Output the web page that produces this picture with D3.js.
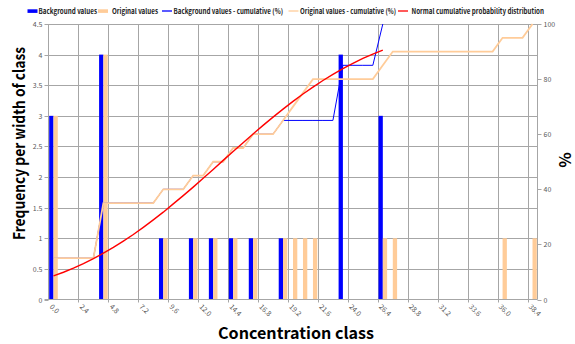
<!DOCTYPE html>
<html><head><meta charset="utf-8">
<script src="https://cdn.jsdelivr.net/npm/d3@7"></script>
<style>
html,body{margin:0;padding:0;background:#fff;}
svg{display:block;font-family:"Noto Sans CJK KR","Noto Sans",sans-serif;}
</style></head>
<body>
<svg id="chart" width="575" height="344"></svg>
<script>
// ---- data ----
const categories = ["0.0","0.8","1.6","2.4","3.2","4.0","4.8","5.6","6.4","7.2","8.0","8.8","9.6","10.4","11.2","12.0","12.8","13.6","14.4","15.2","16.0","16.8","17.6","18.4","19.2","20.0","20.8","21.6","22.4","23.2","24.0","24.8","25.6","26.4","27.2","28.0","28.8","29.6","30.4","31.2","32.0","32.8","33.6","34.4","35.2","36.0","36.8","37.6","38.4"];
const tickLabels = ["0.0","2.4","4.8","7.2","9.6","12.0","14.4","16.8","19.2","21.6","24.0","26.4","28.8","31.2","33.6","36.0","38.4"];
const backgroundValues = [3,0,0,0,0,4,0,0,0,0,0,1,0,0,1,0,1,0,1,0,1,0,0,1,0,0,0,0,0,4,0,0,0,3,0,0,0,0,0,0,0,0,0,0,0,0,0,0,0];
const originalValues   = [3,0,0,0,0,4,0,0,0,0,0,1,0,0,1,0,1,0,1,0,1,0,0,1,1,1,1,0,0,0,0,0,0,1,1,0,0,0,0,0,0,0,0,0,0,1,0,0,1];
const backgroundCumulative = [15,15,15,15,15,35,35,35,35,35,35,40,40,40,45,45,50,50,55,55,60,60,60,65,65,65,65,65,65,85,85,85,85,100];
const originalCumulative = [15,15,15,15,15,35,35,35,35,35,35,40,40,40,45,45,50,50,55,55,60,60,60,65,70,75,80,80,80,80,80,80,80,85,90,90,90,90,90,90,90,90,90,90,90,95,95,95,100];
const normalCumulative = [8.6,9.9,11.4,13.0,14.8,16.8,18.9,21.2,23.6,26.2,28.9,31.7,34.7,37.7,40.8,44.0,47.2,50.5,53.7,56.9,60.1,63.2,66.2,69.1,71.9,74.6,77.1,79.5,81.7,83.8,85.7,87.5,89.1,90.5];
const leftTicks = [0,0.5,1,1.5,2,2.5,3,3.5,4,4.5];
const rightTicks = [0,20,40,60,80,100];
const seriesNames = ["Background values","Original values","Background values - cumulative (%)","Original values - cumulative (%)","Normal cumulative probability distribution"];

// ---- layout ----
const L = 48.5, R = 537.5, T = 24, B = 299.5;
const blue = "#0000FF", peach = "#FFCC99", red = "#FF0000", grid = "#a6a6a6", tickCol = "#595959";
const svg = d3.select("#chart");

const x = d3.scaleBand().domain(categories).range([L, R]).padding(0);
const x1 = d3.scaleBand().domain(["bg","orig"]).range([0, x.bandwidth()]).paddingInner(0).paddingOuter(0.16);
const y = d3.scaleLinear().domain([0, 4.5]).range([B, T]);
const y2 = d3.scaleLinear().domain([0, 100]).range([B, T]);
const cx = c => x(c) + x.bandwidth() / 2;

// gridlines
const g = svg.append("g");
g.selectAll("line.h").data(leftTicks.slice(1)).join("line")
  .attr("x1", L).attr("x2", R).attr("y1", d => Math.round(y(d)) + 0.5).attr("y2", d => Math.round(y(d)) + 0.5)
  .attr("stroke", grid).attr("stroke-width", 1);
const vIdx = d3.range(3, categories.length, 3);
g.selectAll("line.v").data(vIdx).join("line")
  .attr("x1", i => Math.round(x(categories[i])) + 0.5).attr("x2", i => Math.round(x(categories[i])) + 0.5)
  .attr("y1", T).attr("y2", B + 3)
  .attr("stroke", grid).attr("stroke-width", 1);

// bars
const bars = svg.append("g");
categories.forEach((c, i) => {
  if (backgroundValues[i] > 0) bars.append("rect").attr("x", x(c) + x1("bg")).attr("width", x1.bandwidth())
    .attr("y", y(backgroundValues[i])).attr("height", y(0) - y(backgroundValues[i])).attr("fill", blue);
  if (originalValues[i] > 0) bars.append("rect").attr("x", x(c) + x1("orig")).attr("width", x1.bandwidth())
    .attr("y", y(originalValues[i])).attr("height", y(0) - y(originalValues[i])).attr("fill", peach);
});

// axes lines
svg.append("line").attr("x1", L).attr("x2", L).attr("y1", T).attr("y2", B).attr("stroke", grid);
svg.append("line").attr("x1", R).attr("x2", R).attr("y1", T).attr("y2", B).attr("stroke", grid);
svg.append("line").attr("x1", L - 4).attr("x2", R).attr("y1", B).attr("y2", B).attr("stroke", grid);

// left ticks
const lt = svg.append("g");
leftTicks.forEach(v => {
  const yy = Math.round(y(v)) + 0.5;
  lt.append("line").attr("x1", L - 4).attr("x2", L).attr("y1", yy).attr("y2", yy).attr("stroke", grid);
  lt.append("text").attr("x", L - 6).attr("y", yy).attr("dy", "0.35em").attr("text-anchor", "end")
    .attr("font-size", 7).attr("fill", tickCol).text(v);
});
// right ticks
rightTicks.forEach(v => {
  const yy = Math.round(y2(v)) + 0.5;
  lt.append("line").attr("x1", R).attr("x2", R + 4).attr("y1", yy).attr("y2", yy).attr("stroke", grid);
  lt.append("text").attr("x", R + 6).attr("y", yy).attr("dy", "0.35em").attr("text-anchor", "start")
    .attr("font-size", 7).attr("fill", tickCol).text(v);
});
// bottom tick labels
tickLabels.forEach(t => {
  lt.append("text").attr("transform", `translate(${cx(t) - 2.5},${B + 6}) rotate(45)`)
    .attr("dy", "0.35em").attr("text-anchor", "start").attr("font-size", 7).attr("fill", tickCol).text(t);
});

// lines
const lineGen = (arr, sc) => d3.line().x((d, i) => cx(categories[i])).y(d => sc(d))(arr);
svg.append("path").attr("d", lineGen(backgroundCumulative, y2)).attr("fill", "none").attr("stroke", blue).attr("stroke-width", 1.0);
svg.append("path").attr("d", lineGen(originalCumulative, y2)).attr("fill", "none").attr("stroke", peach).attr("stroke-width", 1.8);
svg.append("path").attr("d", lineGen(normalCumulative, y2)).attr("fill", "none").attr("stroke", red).attr("stroke-width", 1.4);

// legend
const lg = svg.append("g").attr("font-size", 7.5).attr("font-weight", "bold").attr("fill", "#222");
const legendItems = [
  {type:"rect", color: blue, mx: 27.5, tx: 38.5, tw: 58.5},
  {type:"rect", color: peach, mx: 98, tx: 112, tw: 46},
  {type:"line", color: blue, mx: 162, tx: 173.5, tw: 109.5},
  {type:"line", color: peach, mx: 288.5, tx: 300, tw: 96},
  {type:"line", color: red, mx: 398, tx: 411.5, tw: 132.5}
];
legendItems.forEach((it, i) => {
  if (it.type === "rect") lg.append("rect").attr("x", it.mx).attr("y", 9.3).attr("width", 10).attr("height", 3.6).attr("fill", it.color);
  else lg.append("line").attr("x1", it.mx).attr("x2", it.mx + 10).attr("y1", 11).attr("y2", 11).attr("stroke", it.color).attr("stroke-width", 1.3);
  lg.append("text").attr("x", it.tx).attr("y", 11).attr("dy", "0.35em").attr("textLength", it.tw).attr("lengthAdjust", "spacingAndGlyphs").text(seriesNames[i]);
});

// axis titles
svg.append("text").attr("transform", "translate(25,143.5) rotate(-90)").attr("text-anchor", "middle")
  .attr("font-size", 16).attr("font-weight", "bold").attr("fill", "#000").attr("textLength", 193).attr("lengthAdjust", "spacingAndGlyphs")
  .text("Frequency per width of class");
svg.append("text").attr("x", 296).attr("y", 338.5).attr("text-anchor", "middle")
  .attr("font-size", 16).attr("font-weight", "bold").attr("fill", "#000").attr("textLength", 156).attr("lengthAdjust", "spacingAndGlyphs")
  .text("Concentration class");
svg.append("text").attr("transform", "translate(571,160) rotate(-90)").attr("text-anchor", "middle")
  .attr("font-size", 16).attr("font-weight", "bold").attr("fill", "#000").text("%");
</script>
</body></html>
